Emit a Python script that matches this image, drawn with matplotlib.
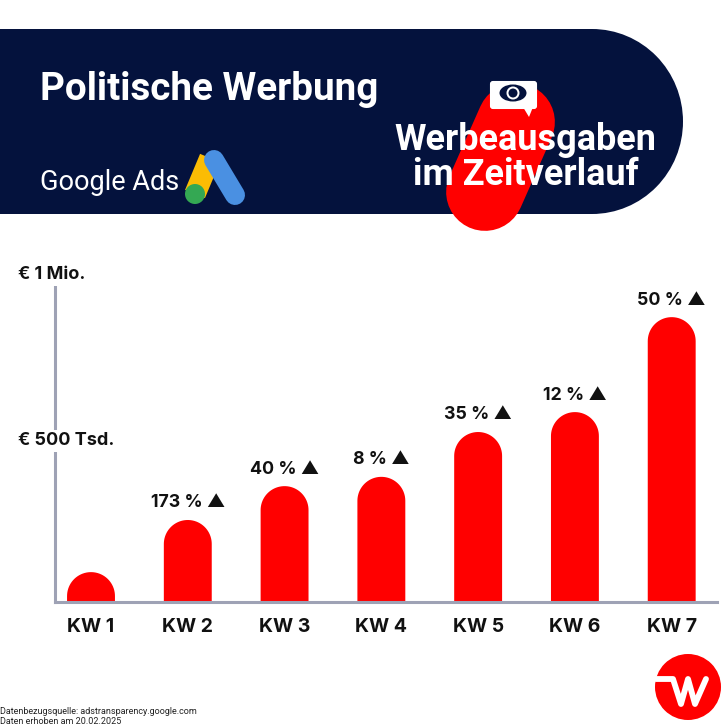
import numpy as np
import matplotlib
matplotlib.use('Agg')
import matplotlib.pyplot as plt
from matplotlib.patches import Ellipse, Rectangle, Polygon, FancyBboxPatch
from matplotlib.transforms import blended_transform_factory

weeks = ['KW 1', 'KW 2', 'KW 3', 'KW 4', 'KW 5', 'KW 6', 'KW 7']
spend = [90000, 247000, 349000, 377000, 512000, 572000, 858000]
change = ['', '173 % ▲', '40 % ▲', '8 % ▲', '35 % ▲', '12 % ▲', '50 % ▲']
y_ticks = [500000, 1000000]
y_labels = ['€ 500 Tsd.', '€ 1 Mio.']

navy = '#04123D'
red = '#FF0000'
axis_grey = '#9EA2B5'
body_font = ['Inter', 'DejaVu Sans']

plt.rcParams['font.family'] = ['Roboto', 'DejaVu Sans']
fig = plt.figure(figsize=(7.28, 7.28), dpi=100)

# overlay in pixel coordinates for the header and the logos
deco = fig.add_axes([0, 0, 1, 1], zorder=1)
deco.set_xlim(0, 728)
deco.set_ylim(728, 0)
deco.axis('off')

deco.add_patch(Rectangle((0, 29), 592, 185, fc=navy, ec='none', zorder=1))
deco.add_patch(Ellipse((592, 121.5), 182, 185, fc=navy, ec='none', zorder=1))
deco.plot([516, 485], [122, 192], color=red, lw=56, solid_capstyle='round', zorder=2)

# speech bubble with eye
deco.add_patch(FancyBboxPatch((491, 82), 45, 26, boxstyle='round,pad=0,rounding_size=2', fc='white', ec='white',
                              lw=1.5, zorder=3))
deco.add_patch(Polygon([[523, 107], [533, 107], [529, 117]], fc='white', ec='none', zorder=3))
deco.add_patch(Ellipse((513, 93), 27, 17, fc=navy, ec='none', zorder=4))
deco.add_patch(Ellipse((513, 93), 13, 13, fc='white', ec='none', zorder=4))
deco.add_patch(Ellipse((513, 93), 9, 9, fc=navy, ec='none', zorder=4))

deco.text(40, 90, 'Politische Werbung', color='white', fontsize=27.8, fontweight='bold', va='center', ha='left', zorder=5)
deco.text(40, 182, 'Google Ads', color='white', fontsize=19.5, va='center', ha='left', zorder=5)
deco.text(525.5, 140, 'Werbeausgaben', color='white', fontsize=25.9, fontweight='bold', va='center', ha='center', zorder=5)
deco.text(525.5, 175, 'im Zeitverlauf', color='white', fontsize=25.9, fontweight='bold', va='center', ha='center', zorder=5)

# google ads mark
deco.plot([210, 195], [158, 194], color='#FBBC04', lw=15.5, solid_capstyle='butt', zorder=3)
deco.plot([214, 235], [160, 195], color='#4A90E2', lw=14.4, solid_capstyle='round', zorder=4)
deco.add_patch(Ellipse((195, 194), 20, 20, fc='#34A853', ec='none', zorder=4))

# w logo
deco.add_patch(Ellipse((688, 687), 66, 66, fc=red, ec='none', zorder=3))
deco.plot([656, 673, 681, 688, 695, 706], [679, 679, 704, 679, 704, 679], color='white', lw=4.2,
          solid_joinstyle='round', solid_capstyle='round', zorder=4)

deco.text(0, 711, 'Datenbezugsquelle: adstransparency.google.com', color='#222222', fontsize=6.5, va='center')
deco.text(0, 721, 'Daten erhoben am 20.02.2025', color='#222222', fontsize=6.5, va='center')

# chart axes: x 55..717 px, y 602..270 px
x_low, x_high = 0.628, 7.468
ax = fig.add_axes([55 / 728, (728 - 602) / 728, (717 - 55) / 728, 332 / 728], zorder=2)
ax.patch.set_alpha(0)
ax.set_xlim(x_low, x_high)
ax.set_ylim(0, 1000000)
for side in ['top', 'right']:
    ax.spines[side].set_visible(False)
for side in ['left', 'bottom']:
    ax.spines[side].set_color(axis_grey)
    ax.spines[side].set_linewidth(2.2)
ax.spines['left'].set_bounds(0, 960000)

positions = np.arange(1, len(weeks) + 1)
bar_width = 0.495
px_per_y = 332 / 1000000
px_per_x = 662 / (x_high - x_low)
radius_y = (bar_width / 2 * px_per_x) / px_per_y
angles = np.linspace(np.pi, 0, 40)

for pos, value, label in zip(positions, spend, change):
    # bar with a round top, built in data units so it stays on the scale
    xs = pos + bar_width / 2 * np.cos(angles)
    ys = value - radius_y + radius_y * np.sin(angles)
    ax.fill(np.r_[pos - bar_width / 2, xs, pos + bar_width / 2], np.r_[0, ys, 0], color=red, lw=0, zorder=2)
    if label:
        ax.annotate(label, (pos, value), xytext=(0, 12.3), textcoords='offset points', ha='center', va='center',
                    fontsize=12.8, fontweight='bold', family=body_font, color='#111111', annotation_clip=False)

ax.set_xticks(positions)
ax.set_xticklabels(weeks, family=body_font, fontsize=14, fontweight='bold', color='#111111')
ax.tick_params(axis='x', length=0, pad=11.5)
ax.set_yticks([])

trans = blended_transform_factory(fig.transFigure, ax.transData)
for tick, label in zip(y_ticks, y_labels):
    ax.annotate(label, (18 / 728, tick), xycoords=trans, xytext=(0, -3.5), textcoords='offset points',
                family=body_font, fontsize=13, fontweight='bold', color='#111111', va='center', ha='left',
                annotation_clip=False, bbox=dict(fc='white', ec='none', pad=2))

fig.savefig('out.png', dpi=100, facecolor='white')
